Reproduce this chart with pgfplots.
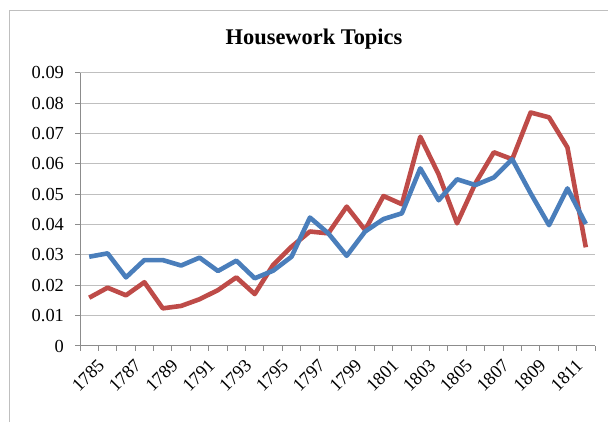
\documentclass[border=0pt]{standalone}
\usepackage{fontspec}
\setmainfont{Liberation Serif}
\usepackage{pgfplots}
\pgfplotsset{compat=1.18}

\definecolor{serblue}{HTML}{4A7EBB}
\definecolor{serred}{HTML}{BE4B48}
\definecolor{gridgrey}{HTML}{BFBFBF}
\definecolor{axgrey}{HTML}{8C8C8C}

\begin{document}
\begin{tikzpicture}
  % 1 reference pixel = 0.5pt; picture is 304pt x 211pt
  \useasboundingbox (0pt,0pt) rectangle (304pt,211pt);
  \draw[gridgrey, line width=0.5pt] (4.5pt,0pt) -- (4.5pt,205.5pt) -- (304pt,205.5pt);

  \node[font=\fontsize{11.2}{13}\selectfont\bfseries] at (157pt,191.5pt) {Housework Topics};

  \begin{axis}[
    at={(40pt,38pt)}, anchor=south west,
    scale only axis,
    width=257.5pt, height=136.65pt,
    xmin=-0.5, xmax=27.5,
    ymin=0, ymax=0.09,
    axis x line*=bottom,
    axis y line*=left,
    axis line style={axgrey, line width=0.5pt},
    tick style={axgrey, line width=0.5pt},
    tick align=outside,
    major tick length=2.5pt,
    ytick={0,0.01,0.02,0.03,0.04,0.05,0.06,0.07,0.08,0.09},
    yticklabels={0,0.01,0.02,0.03,0.04,0.05,0.06,0.07,0.08,0.09},
    scaled y ticks=false,
    ymajorgrids=true,
    grid style={gridgrey, line width=0.5pt},
    xtick={-0.5,0.5,...,27.5},
    xticklabels={},
    extra x ticks={0,2,...,26},
    extra x tick labels={1785,1787,1789,1791,1793,1795,1797,1799,1801,1803,1805,1807,1809,1811},
    extra x tick style={grid=none, major tick length=0pt,
      tick label style={rotate=45, anchor=east, xshift=2pt, yshift=-10pt}},
    tick label style={font=\fontsize{9.2}{11}\selectfont, black},
    yticklabel style={xshift=-2pt},
    clip=false,
  ]
    % red series
    \addplot[serred, line width=2.3pt, line join=round] coordinates {
      (0,0.0159) (1,0.0192) (2,0.0167) (3,0.0210) (4,0.0124) (5,0.0132)
      (6,0.0154) (7,0.0184) (8,0.0226) (9,0.0171) (10,0.0267) (11,0.0327)
      (12,0.0377) (13,0.0371) (14,0.0459) (15,0.0382) (16,0.0494) (17,0.0467)
      (18,0.0689) (19,0.0565) (20,0.0404) (21,0.0536) (22,0.0638) (23,0.0615)
      (24,0.0769) (25,0.0753) (26,0.0654) (27,0.0325)
    };
    % blue series
    \addplot[serblue, line width=2.3pt, line join=round] coordinates {
      (0,0.0294) (1,0.0305) (2,0.0226) (3,0.0283) (4,0.0283) (5,0.0265)
      (6,0.0291) (7,0.0247) (8,0.0281) (9,0.0223) (10,0.0248) (11,0.0294)
      (12,0.0423) (13,0.0371) (14,0.0297) (15,0.0377) (16,0.0418) (17,0.0437)
      (18,0.0585) (19,0.0480) (20,0.0549) (21,0.0530) (22,0.0555) (23,0.0615)
      (24,0.0503) (25,0.0398) (26,0.0519) (27,0.0402)
    };
  \end{axis}
\end{tikzpicture}
\end{document}
